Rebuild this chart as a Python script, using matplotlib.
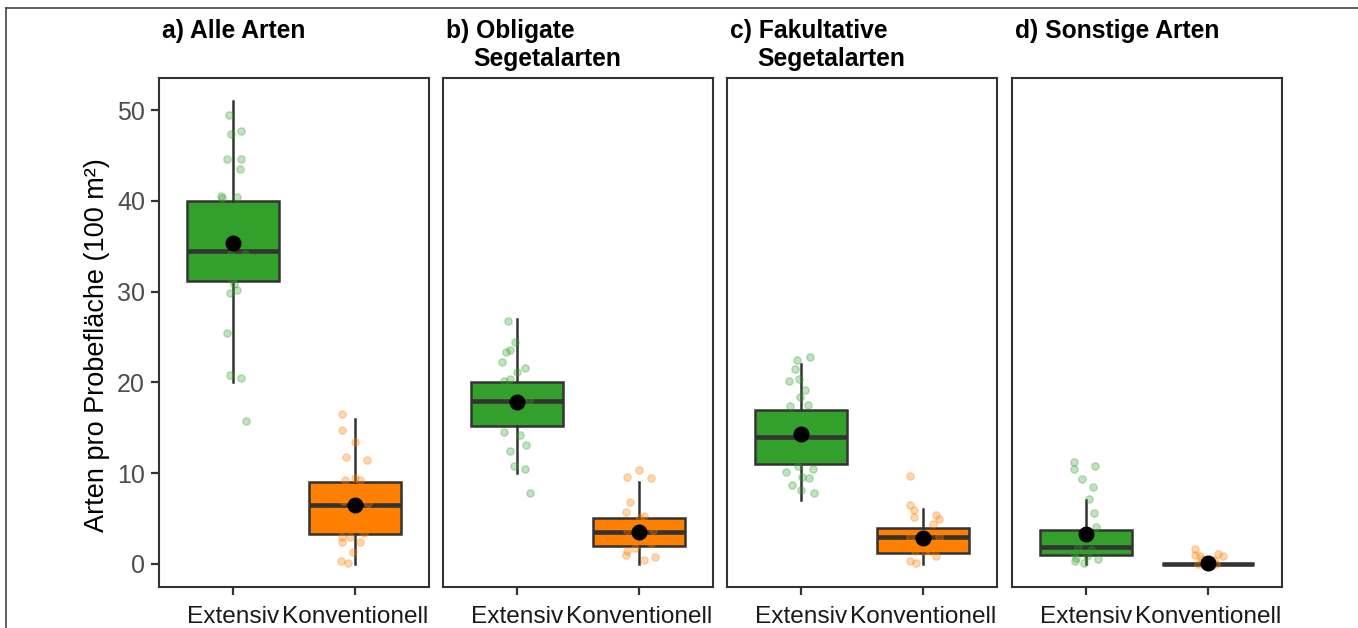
import matplotlib.pyplot as plt
from matplotlib.lines import Line2D

plt.rcParams['font.family'] = ['Liberation Sans', 'DejaVu Sans']

groups = ["Extensiv", "Konventionell"]
titles = [["a) Alle Arten"],
          ["b) Obligate", "Segetalarten"],
          ["c) Fakultative", "Segetalarten"],
          ["d) Sonstige Arten"]]
ylabel = "Arten pro Probefläche (100 m²)"

# box statistics per panel (a-d)
ext_q1 = [31.2, 15.2, 11.0, 1.0]
ext_med = [34.5, 18.0, 14.0, 1.85]
ext_q3 = [40.0, 20.0, 17.0, 3.75]
ext_lo = [20.0, 10.0, 7.0, 0.0]
ext_hi = [51.0, 27.0, 22.0, 7.0]
ext_mean = [35.4, 17.8, 14.3, 3.3]

konv_q1 = [3.27, 2.0, 1.25, 0.0]
konv_med = [6.5, 3.5, 3.0, 0.0]
konv_q3 = [9.0, 5.0, 4.0, 0.0]
konv_lo = [0.0, 0.0, 0.0, 0.0]
konv_hi = [16.0, 9.0, 6.0, 0.0]
konv_mean = [6.5, 3.5, 2.9, 0.08]

# single plots (species counts) and their horizontal jitter
ext_pts = [
    [49.45, 47.4, 47.7, 44.6, 44.6, 43.5, 40.5, 40.3, 40.4, 34.2, 34.2, 31.4, 30.9, 30.2, 29.9, 25.4, 20.8, 20.5, 15.8],
    [26.8, 24.4, 23.3, 23.6, 22.2, 21.2, 21.6, 20.2, 20.4, 18.1, 14.5, 14.2, 13.1, 12.4, 10.8, 10.5, 7.8],
    [22.8, 22.5, 21.5, 20.1, 20.4, 19.2, 18.4, 17.4, 17.5, 10.8, 10.5, 10.1, 9.6, 9.5, 8.7, 8.1, 7.8],
    [11.2, 10.5, 10.8, 9.4, 8.5, 7.2, 5.6, 4.1, 1.9, 1.5, 1.2, 0.9, 0.7, 0.5, 0.3, 0.15],
]
ext_jit = [
    [-4, -2, 8.4, -6, 8, 7, -12, -11, 4, -2, 12, -1, 1, 4, -3, -6, -3, 8.4, 13.4],
    [-9, -1.7, -11, -6.7, -14.7, 0.6, 8.3, -12.4, -6.7, 12.6, -12.4, 3.6, 9.3, -6.4, -2.7, 8.3, 13.3],
    [9, -3.7, -6, -12, -1.3, 4, -0.3, -11, 7.3, -2.7, 12.3, -14.3, 1.7, 8.3, -8.7, 0.3, 13.7],
    [-12, -12, 9, -3.6, 7.4, 3.7, 8, 10, -8, 5, -12, 1, -10, 12, -11, -1.3],
]
konv_pts = [
    [16.5, 14.7, 13.4, 11.8, 11.5, 9.25, 9.5, 9.25, 6.9, 6.7, 3.0, 3.0, 3.45, 2.4, 2.4, 1.35, 0.33, 0.15],
    [10.4, 9.55, 9.5, 6.8, 5.7, 5.3, 5.1, 3.7, 3.7, 2.3, 1.8, 1.4, 1.0, 0.45, 0.8],
    [9.7, 6.5, 5.9, 5.2, 5.4, 4.9, 4.4, 3.0, 3.0, 1.45, 1.45, 1.45, 0.9, 0.37, 0.15],
    [1.6, 1.0, 0.9, 1.07, 0.9, 0.3, 0.2, 0.0, 0.0, 0.5, 0.4],
]
konv_jit = [
    [-13.3, -13.3, 0, -9, 11.7, -10, 0, 4.3, -12.3, 12.3, -13.3, -5.7, 9, -13.3, 4.3, -2.3, -14.3, -7.7],
    [0, -12.6, 12, -9, -13, 4.7, 0.7, 14, -12.6, 11.7, -4.6, -12.6, -13.3, 4.7, 15.4],
    [-13.7, -13, -9, -9.7, 13, 15.3, 9.3, -13.3, 15.3, -8.7, 1.3, 6.3, 12.3, -13.7, -7.7],
    [-13.3, -13.3, -8.3, 10, 14.7, -4, 4, -10, 8, -6, 6],
]

colors = ["#33a02c", "#ff7f00"]
edge = "#333333"

W, H = 1358, 628
fig = plt.figure(figsize=(W / 100, H / 100), dpi=100)

panel_left = [159, 443, 727, 1012]
panel_w = 270
top, bottom = 78, 587

for i in range(4):
    ax = fig.add_axes([panel_left[i] / W, 1 - bottom / H, panel_w / W, (bottom - top) / H])
    stats = [
        dict(q1=ext_q1[i], med=ext_med[i], q3=ext_q3[i], whislo=ext_lo[i], whishi=ext_hi[i], fliers=[]),
        dict(q1=konv_q1[i], med=konv_med[i], q3=konv_q3[i], whislo=konv_lo[i], whishi=konv_hi[i], fliers=[]),
    ]
    bp = ax.bxp(stats, positions=[1, 2], widths=0.75, patch_artist=True, showcaps=False,
                boxprops=dict(edgecolor=edge, linewidth=1.8),
                whiskerprops=dict(color=edge, linewidth=1.8),
                medianprops=dict(color=edge, linewidth=3.3, solid_capstyle='butt'))
    for patch, c in zip(bp['boxes'], colors):
        patch.set_facecolor(c)

    for k, (pts, jit) in enumerate([(ext_pts[i], ext_jit[i]), (konv_pts[i], konv_jit[i])]):
        xs = [k + 1 + j / 122 for j in jit]
        ax.scatter(xs, pts, s=28, color=colors[k], alpha=0.3, linewidths=1.0, zorder=4)

    ax.scatter([1, 2], [ext_mean[i], konv_mean[i]], s=110, color="black", zorder=5)

    ax.set_xlim(0.4, 2.6)
    ax.set_ylim(-2.55, 53.55)
    ax.set_xticks([1, 2])
    ax.set_xticklabels(groups, fontsize=17.6, color="#1a1a1a")
    ax.tick_params(axis='x', length=6, width=1.6, color=edge, pad=8)
    if i == 0:
        ax.set_yticks([0, 10, 20, 30, 40, 50])
        ax.tick_params(axis='y', labelsize=18, labelcolor="#4d4d4d", length=6, width=1.6, color=edge, pad=4)
    else:
        ax.set_yticks([])
    for s in ax.spines.values():
        s.set_color(edge)
        s.set_linewidth(1.5)

    # panel title
    fig.text((panel_left[i] + 3) / W, 1 - 38 / H, titles[i][0], fontsize=17.75,
             fontweight='bold', ha='left', va='baseline')
    if len(titles[i]) > 1:
        fig.text((panel_left[i] + 30) / W, 1 - 66 / H, titles[i][1], fontsize=17.75,
                 fontweight='bold', ha='left', va='baseline')

fig.text(97 / W, 1 - 345 / H, ylabel, rotation=90, fontsize=19.5, ha='center', va='center')

# outer frame (top and left edge)
fig.add_artist(Line2D([6 / W, 6 / W], [0, 1 - 8 / H], color="#444444", linewidth=1.2))
fig.add_artist(Line2D([6 / W, 1], [1 - 8 / H, 1 - 8 / H], color="#444444", linewidth=1.2))

fig.savefig("out.png", dpi=100)
